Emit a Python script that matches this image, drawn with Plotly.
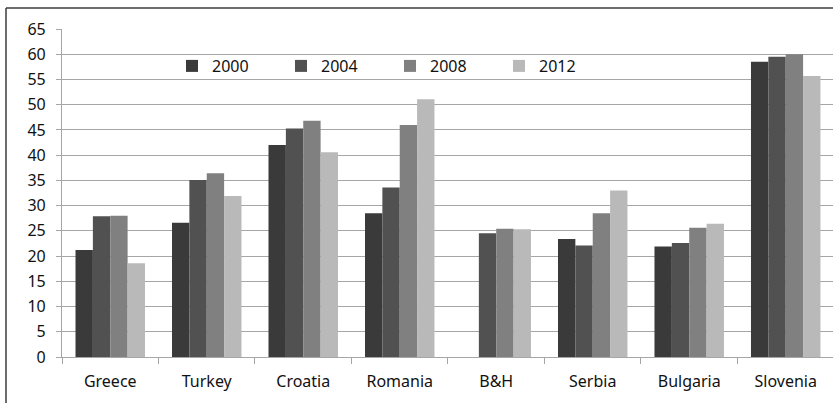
import plotly.graph_objects as go

# Countries and survey years
countries = ["Greece", "Turkey", "Croatia", "Romania", "B&H", "Serbia", "Bulgaria", "Slovenia"]
years = ["2000", "2004", "2008", "2012"]

# Values per year (None = no data)
v2000 = [21.2, 26.6, 42.0, 28.5, None, 23.4, 21.9, 58.5]
v2004 = [27.9, 35.1, 45.3, 33.6, 24.5, 22.1, 22.6, 59.5]
v2008 = [28.0, 36.4, 46.8, 46.0, 25.4, 28.5, 25.6, 60.0]
v2012 = [18.6, 31.9, 40.6, 51.1, 25.3, 33.0, 26.4, 55.7]

series = [v2000, v2004, v2008, v2012]
colors = ["#3a3a3a", "#515151", "#808080", "#b9b9b9"]

font_family = "Noto Sans, Lato, sans-serif"
text_color = "#111111"

fig = go.Figure()
for name, vals, col in zip(years, series, colors):
    fig.add_trace(go.Bar(
        x=countries, y=vals, name=name,
        marker=dict(color=col, line=dict(width=0)),
    ))

W, H = 833, 403
ml, mr, mt, mb = 62, 0, 29, 46
pw = W - ml - mr
ph = H - mt - mb

fig.update_layout(
    width=W, height=H,
    margin=dict(l=ml, r=mr, t=mt, b=mb),
    paper_bgcolor="white", plot_bgcolor="white",
    barmode="group", bargap=0.28, bargroupgap=0,
    font=dict(family=font_family, size=16, color=text_color),
    showlegend=True,
    legend=dict(
        orientation="h",
        x=(172 - ml) / pw, xanchor="left",
        y=1 - (49 - mt) / ph, yanchor="top",
        entrywidth=64, entrywidthmode="pixels",
        font=dict(size=16, family=font_family, color=text_color),
        bgcolor="rgba(0,0,0,0)",
        itemclick=False,
    ),
    xaxis=dict(
        range=[-0.5, 7.49],
        showgrid=False,
        showline=True, linecolor="#a6a6a6", linewidth=1.2,
        ticks="outside", tickson="boundaries", ticklen=6,
        tickcolor="#a6a6a6", tickwidth=1.2,
        tickfont=dict(size=16, family=font_family, color=text_color),
        ticklabelstandoff=10,
        fixedrange=True,
    ),
    yaxis=dict(
        range=[0, 65], dtick=5, tick0=0,
        showgrid=True, gridcolor="#a6a6a6", gridwidth=1.2,
        showline=True, linecolor="#a6a6a6", linewidth=1.2,
        ticks="outside", ticklen=5, tickcolor="#a6a6a6", tickwidth=1.2,
        tickfont=dict(size=16, family=font_family, color=text_color),
        zeroline=False,
        ticklabelstandoff=7,
        fixedrange=True,
    ),
)

# Outer chart frame (left and top edges)
x_left = (6 - ml) / pw
y_top = 1 + (mt - 8) / ph
fig.add_shape(type="line", xref="paper", yref="paper",
              x0=x_left, x1=x_left, y0=-0.3, y1=y_top,
              line=dict(color="#3c3c3c", width=1.5))
fig.add_shape(type="line", xref="paper", yref="paper",
              x0=x_left, x1=1.1, y0=y_top, y1=y_top,
              line=dict(color="#3c3c3c", width=1.5))

fig.write_html("out.html", config={"displayModeBar": False})
